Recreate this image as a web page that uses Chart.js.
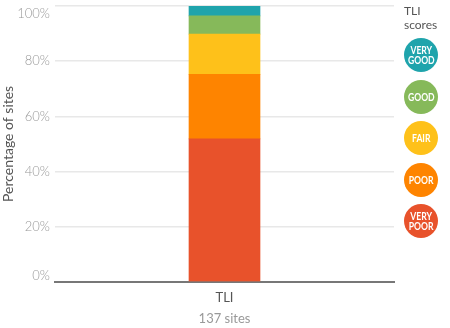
<!DOCTYPE html>
<html>
<head>
<meta charset="utf-8">
<script src="https://cdn.jsdelivr.net/npm/chart.js@4"></script>
<style>
  body { margin: 0; background: #fff; font-family: Lato, sans-serif; }
  #wrap { position: relative; width: 450px; height: 328px; }
  #legend { position: absolute; left: 404px; top: 4px; width: 46px; }
  #legend .ttl { font-size: 12px; color: #555; line-height: 14px; }
  .dot { position: absolute; width: 34px; height: 34px; border-radius: 50%; color: #fff;
         font-family: Lato, sans-serif; font-weight: 700; font-size: 10.5px; line-height: 10px;
         display: flex; align-items: center; justify-content: center; text-align: center; }
  .dot span { display: inline-block; transform: scaleX(0.82); }
</style>
</head>
<body>
<div id="wrap">
  <canvas id="myChart" width="450" height="328"></canvas>
  <div id="legend"><div class="ttl">TLI<br>scores</div></div>
</div>
<script>
const categories = ['TLI'];
const siteCount = '137 sites';
const scoreNames = ['VERY POOR', 'POOR', 'FAIR', 'GOOD', 'VERY GOOD'];
const scoreColors = ['#e8522b', '#fe8400', '#fec11a', '#86b95a', '#1fa4ac'];
const scorePercents = [51.8, 23.4, 14.6, 6.6, 3.6];
const yTicks = [0, 20, 40, 60, 80, 100];

const tickFont = { family: 'Lato', size: 13, weight: 300 };

// end labels sit inside the plot instead of centred on their gridline
const edgeLabels = {
    id: 'edgeLabels',
    afterDraw(chart) {
        const y = chart.scales.y;
        const c = chart.ctx;
        c.save();
        c.font = '300 13px Lato';
        c.fillStyle = '#999';
        c.textAlign = 'right';
        c.textBaseline = 'middle';
        c.fillText(yTicks[yTicks.length - 1] + '%', y.right - 5, y.getPixelForValue(100) + 8);
        c.fillText(yTicks[0] + '%', y.right - 5, y.getPixelForValue(0) - 6);
        c.restore();
    }
};

const ctx = document.getElementById('myChart').getContext('2d');
const chart = new Chart(ctx, {
    type: 'bar',
    data: {
        labels: categories,
        datasets: scoreNames.map((name, i) => ({
            label: name,
            data: [scorePercents[i]],
            backgroundColor: scoreColors[i],
            borderWidth: 0,
            barThickness: 71
        }))
    },
    options: {
        responsive: false,
        animation: false,
        layout: { padding: { right: 56, top: 6, bottom: 1 } },
        scales: {
            x: {
                stacked: true,
                grid: { display: false, drawTicks: false, tickLength: 0 },
                border: { color: '#777', width: 2 },
                ticks: { color: '#555', font: { family: 'Lato', size: 13 }, padding: 8 },
                title: { display: true, text: siteCount, color: '#999', font: { family: 'Lato', size: 13 }, padding: { top: -2, bottom: 0 } }
            },
            y: {
                stacked: true,
                min: 0,
                max: 100,
                afterBuildTicks: (s) => { s.ticks = yTicks.map(v => ({ value: v })); },
                afterFit: (s) => { s.width = 55; s.paddingTop = 0; s.paddingBottom = 0; },
                grid: { color: '#e8e8e8', lineWidth: 1.5, drawTicks: false },
                border: { display: false },
                ticks: {
                    color: '#999',
                    padding: 5,
                    font: tickFont,
                    callback: (v) => (v === 0 || v === 100) ? '' : v + '%'
                },
                title: { display: true, text: 'Percentage of sites', color: '#555', font: { family: 'Lato', size: 14 }, padding: 0 }
            }
        },
        plugins: {
            legend: { display: false },
            tooltip: { enabled: false }
        }
    },
    plugins: [edgeLabels]
});

const legend = document.getElementById('legend');
const centers = [221, 179.5, 138, 96.5, 55];
scoreNames.forEach((name, i) => {
    const d = document.createElement('div');
    d.className = 'dot';
    d.style.background = scoreColors[i];
    d.style.left = '0px';
    d.style.top = (centers[i] - 17 - 4) + 'px';
    d.innerHTML = '<span>' + name.replace(' ', '<br>') + '</span>';
    legend.appendChild(d);
});
</script>
</body>
</html>
